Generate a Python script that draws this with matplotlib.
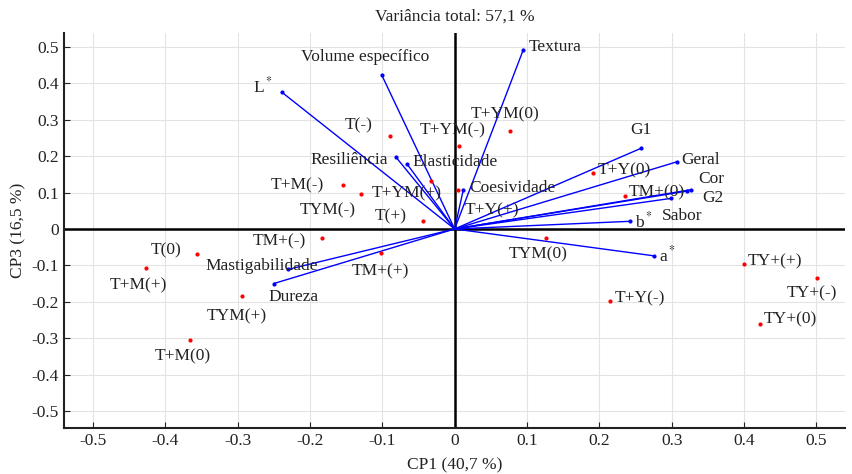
import numpy as np
import matplotlib
matplotlib.use("Agg")
from matplotlib import pyplot as plt

plt.rcParams['font.family'] = ['Liberation Serif', 'DejaVu Serif']
plt.rcParams['mathtext.fontset'] = 'stix'

# Cargas das variaveis (CP1, CP3)
var_nomes = ['Textura', 'Volume específico', 'L$^*$', 'Resiliência', 'Elasticidade',
             'Coesividade', 'G1', 'Geral', 'Cor', 'G2', 'Sabor', 'b$^*$', 'a$^*$',
             'Mastigabilidade', 'Dureza']
var_cp1 = [0.095, -0.101, -0.239, -0.081, -0.066, 0.012, 0.258, 0.308, 0.327, 0.321,
           0.299, 0.242, 0.276, -0.230, -0.250]
var_cp3 = [0.493, 0.424, 0.376, 0.197, 0.179, 0.108, 0.222, 0.185, 0.108, 0.104,
           0.084, 0.021, -0.074, -0.111, -0.150]

# Escores das formulacoes
trat_nomes = ['T(-)', 'T(0)', 'T(+)', 'T+M(-)', 'T+M(0)', 'T+M(+)', 'TM+(-)', 'TM+(0)',
              'TM+(+)', 'T+Y(-)', 'T+Y(0)', 'T+Y(+)', 'TY+(-)', 'TY+(0)', 'TY+(+)',
              'T+YM(-)', 'T+YM(0)', 'T+YM(+)', 'TYM(-)', 'TYM(0)', 'TYM(+)']
trat_cp1 = [-0.090, -0.356, -0.044, -0.155, -0.366, -0.427, -0.184, 0.235, -0.102,
            0.215, 0.191, 0.004, 0.501, 0.422, 0.400, 0.006, 0.077, -0.033, -0.130,
            0.126, -0.294]
trat_cp3 = [0.256, -0.070, 0.022, 0.122, -0.304, -0.107, -0.025, 0.090, -0.065,
            -0.199, 0.153, 0.108, -0.134, -0.260, -0.096, 0.227, 0.270, 0.131, 0.097,
            -0.025, -0.184]

# deslocamento dos rotulos em pixels (dx, dy, alinhamento)
pos_var = {
    'Textura': (5, 3, 'left'), 'Volume específico': (-16, 18, 'center'),
    'L$^*$': (-9, 6, 'right'), 'Resiliência': (-8, -3, 'right'),
    'Elasticidade': (6, 2, 'left'), 'Coesividade': (6, 2, 'left'),
    'G1': (0, 18, 'center'), 'Geral': (4, 2, 'left'), 'Cor': (7, 11, 'left'),
    'G2': (15, -7, 'left'), 'Sabor': (-9, -18, 'left'), 'b$^*$': (5, 0, 'left'),
    'a$^*$': (5, 0, 'left'), 'Mastigabilidade': (-27, 3, 'center'),
    'Dureza': (-5, -13, 'left'),
}
pos_trat = {
    'T(-)': (-17, 10, 'right'), 'T(0)': (-16, 4, 'right'), 'T(+)': (-16, 5, 'right'),
    'T+M(-)': (-19, -1, 'right'), 'T+M(0)': (-7, -17, 'center'),
    'T+M(+)': (-7, -17, 'center'), 'TM+(-)': (-16, -3, 'right'),
    'TM+(0)': (4, 4, 'left'), 'TM+(+)': (0, -19, 'center'),
    'T+Y(-)': (4, 3, 'left'), 'T+Y(0)': (5, 3, 'left'), 'T+Y(+)': (7, -21, 'left'),
    'TY+(-)': (-5, -16, 'center'), 'TY+(0)': (4, 4, 'left'), 'TY+(+)': (4, 3, 'left'),
    'T+YM(-)': (-6, 16, 'center'), 'T+YM(0)': (-5, 16, 'center'),
    'T+YM(+)': (-24, -12, 'center'), 'TYM(-)': (-33, -17, 'center'),
    'TYM(0)': (-8, -16, 'center'), 'TYM(+)': (-5, -20, 'center'),
}

fs = 12.5
fig = plt.figure(figsize=(8.53, 4.74), dpi=100)
ax = fig.add_axes([0.075, 0.097, 0.916, 0.833])

ax.axhline(0, color='black', lw=1.8, zorder=1)
ax.axvline(0, color='black', lw=1.8, zorder=1)

for nome, x, y in zip(var_nomes, var_cp1, var_cp3):
    ax.plot([0, x], [0, y], color='blue', lw=1, zorder=2)
    ax.plot(x, y, 'o', color='blue', ms=2, zorder=3)
    dx, dy, ha = pos_var[nome]
    ax.annotate(nome, (x, y), xytext=(dx, dy), textcoords='offset pixels',
                ha=ha, va='center', fontsize=fs, color='#222222', zorder=4)

ax.plot(trat_cp1, trat_cp3, 'o', color='red', ms=2, zorder=3)
for nome, x, y in zip(trat_nomes, trat_cp1, trat_cp3):
    dx, dy, ha = pos_trat[nome]
    ax.annotate(nome, (x, y), xytext=(dx, dy), textcoords='offset pixels',
                ha=ha, va='center', fontsize=fs, color='#222222', zorder=4)

ax.set_xlim(-0.54, 0.54)
ax.set_ylim(-0.547, 0.538)
ax.set_xticks(np.arange(-0.5, 0.51, 0.1))
ax.set_yticks(np.arange(-0.5, 0.51, 0.1))
ax.set_xticklabels(['-0.5', '-0.4', '-0.3', '-0.2', '-0.1', '0', '0.1', '0.2', '0.3', '0.4', '0.5'])
ax.set_yticklabels(['-0.5', '-0.4', '-0.3', '-0.2', '-0.1', '0', '0.1', '0.2', '0.3', '0.4', '0.5'])
ax.grid(True, color='#e3e3e3', lw=0.8, zorder=0)
ax.set_axisbelow(True)
ax.tick_params(direction='in', length=4, labelsize=fs, colors='#222222')

for lado in ['top', 'right']:
    ax.spines[lado].set_visible(False)
for lado in ['left', 'bottom']:
    ax.spines[lado].set_linewidth(1.5)
    ax.spines[lado].set_color('#222222')

ax.set_xlabel('CP1 (40,7 %)', fontsize=fs, color='#222222', labelpad=6)
ax.set_ylabel('CP3 (16,5 %)', fontsize=fs, color='#222222', labelpad=4)
ax.set_title('Variância total: 57,1 %', fontsize=fs, color='#222222', pad=9)

fig.savefig('out.png', dpi=100)
